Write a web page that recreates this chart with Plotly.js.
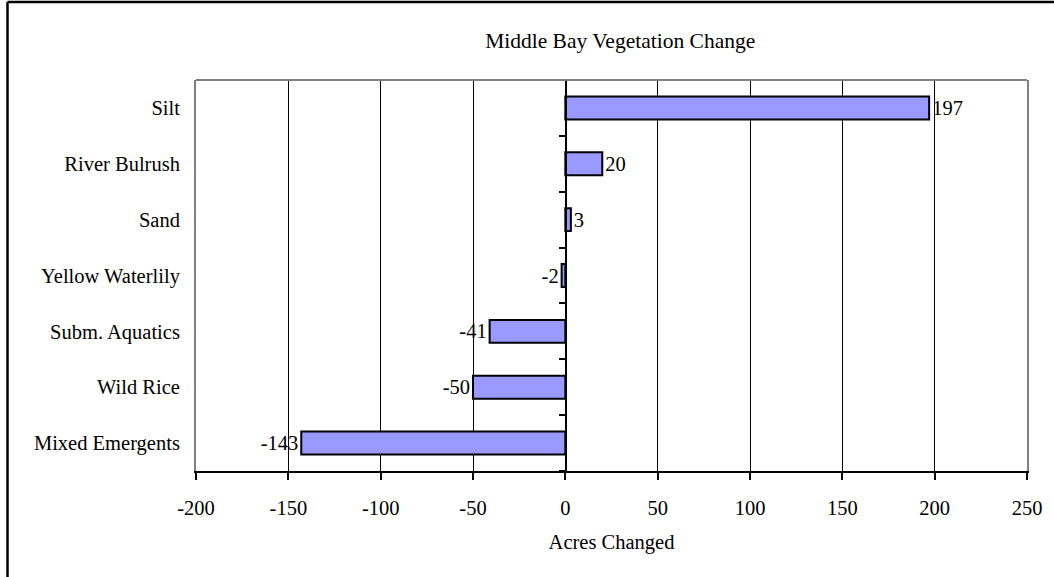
<!DOCTYPE html>
<html>
<head>
<meta charset="utf-8">
<script src="https://cdn.plot.ly/plotly-3.0.1.min.js"></script>
<style>
html,body{margin:0;padding:0;background:#fff;}
#chart{width:1054px;height:577px;}
</style>
</head>
<body>
<div id="chart"></div>
<script>
const categories = ["Mixed Emergents","Wild Rice","Subm. Aquatics","Yellow Waterlily","Sand","River Bulrush","Silt"];
const values = [-143,-50,-41,-2,3,20,197];
const xTicks = [-200,-150,-100,-50,0,50,100,150,200,250];

const W = 1054, H = 577;
const L = 196, R = 1027, T = 80, B = 471.5;
const px = x => (x - L) / (R - L);
const py = y => (B - y) / (B - T);

const FONT = "Liberation Serif, Times New Roman, serif";
const FS = 20.5;

const trace = {
  type: "bar",
  orientation: "h",
  y: categories,
  x: values,
  marker: {color: "#9999FF", line: {color: "#000000", width: 2}},
  width: 0.41,
  text: values.map(String),
  textposition: "outside",
  cliponaxis: false,
  textfont: {family: FONT, size: FS, color: "#000"},
  hoverinfo: "none"
};

const boundaries = categories.map((c, i) => i - 0.5).concat([categories.length - 0.5]);

const layout = {
  width: W, height: H,
  margin: {l: L, r: W - R, t: T, b: H - B, pad: 0},
  paper_bgcolor: "#fff",
  plot_bgcolor: "#fff",
  showlegend: false,
  font: {family: FONT, size: FS, color: "#000"},
  title: {text: "Middle Bay Vegetation Change", font: {family: FONT, size: 21.5, color: "#000"},
          x: 538 / W, xref: "paper", xanchor: "center", y: 1 - 40 / H, yanchor: "middle"},
  xaxis: {
    range: [-200, 250], tickvals: xTicks, ticktext: xTicks.map(String),
    showgrid: true, gridcolor: "#000", gridwidth: 1,
    zeroline: false,
    showline: true, linecolor: "#000", linewidth: 2,
    ticks: "outside", ticklen: 7, tickwidth: 2, tickcolor: "#000",
    ticklabelstandoff: 10,
    tickfont: {family: FONT, size: FS, color: "#000"},
    title: {text: "Acres Changed", font: {family: FONT, size: FS, color: "#000"}, standoff: 17},
    automargin: false, fixedrange: true
  },
  yaxis: {
    type: "category", categoryarray: categories, categoryorder: "array",
    range: [-0.5, categories.length - 0.5],
    showgrid: false, zeroline: false,
    showline: true, linecolor: "#808080", linewidth: 2, mirror: true,
    ticks: "", ticklabelstandoff: 10,
    tickfont: {family: FONT, size: FS, color: "#000"},
    automargin: false, fixedrange: true
  },
  yaxis2: {
    overlaying: "y", anchor: "free", position: px(566.2) ,
    range: [-0.5, categories.length - 0.5],
    tickvals: boundaries, showticklabels: false,
    showgrid: false, zeroline: false,
    showline: true, linecolor: "#000", linewidth: 2,
    ticks: "outside", ticklen: 6, tickwidth: 2, tickcolor: "#000",
    fixedrange: true
  },
  shapes: [
    {type: "line", xref: "paper", yref: "paper", x0: 0, x1: 1, y0: 1, y1: 1, line: {color: "#808080", width: 2}},
    {type: "line", xref: "paper", yref: "paper", x0: px(7.5), x1: px(1060), y0: py(2), y1: py(2), line: {color: "#000", width: 2.5}},
    {type: "line", xref: "paper", yref: "paper", x0: px(7.5), x1: px(7.5), y0: py(2), y1: py(580), line: {color: "#000", width: 2.5}}
  ]
};

Plotly.newPlot("chart", [trace, {type: "scatter", x: [], y: [], yaxis: "y2", hoverinfo: "none"}], layout, {displayModeBar: false, staticPlot: true});
</script>
</body>
</html>
